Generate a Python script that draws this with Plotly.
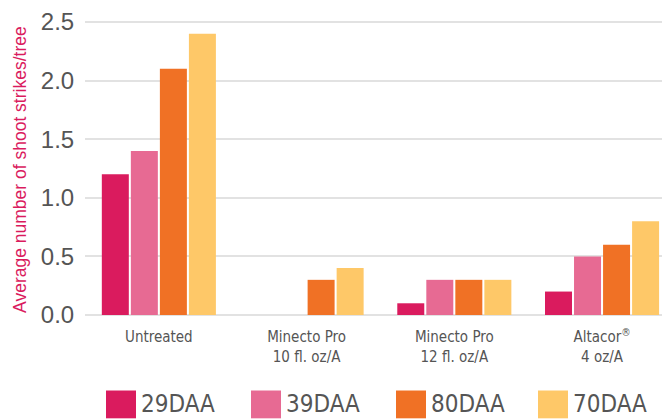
import plotly.graph_objects as go

categories = ["Untreated", "Minecto Pro<br>10 fl. oz/A", "Minecto Pro<br>12 fl. oz/A", "Altacor<sup>®</sup><br>4 oz/A"]
series_names = ["29DAA", "39DAA", "80DAA", "70DAA"]
values_29 = [1.2, 0.0, 0.1, 0.2]
values_39 = [1.4, 0.0, 0.3, 0.5]
values_80 = [2.1, 0.3, 0.3, 0.6]
values_70 = [2.4, 0.4, 0.3, 0.8]
colors = ["#DA1B5E", "#E76A93", "#F07125", "#FEC868"]
y_ticks = [0, 0.5, 1.0, 1.5, 2.0, 2.5]
y_tick_labels = ["0.0", "0.5", "1.0", "1.5", "2.0", "2.5"]
y_title = "Average number of shoot strikes/tree"

COND = "DejaVu Sans Condensed, Liberation Sans, Arial, sans-serif"
SANS = "Liberation Sans, Arial, sans-serif"

fig = go.Figure()
for name, vals, col in zip(series_names, [values_29, values_39, values_80, values_70], colors):
    fig.add_trace(go.Bar(x=categories, y=vals, name=name, marker_color=col,
                         marker_line_width=0, showlegend=False))

# page has an 8px body margin; compensate
OFF = 8
W, H = 670 - OFF, 419 - OFF
ml, mr, mt, mb = 85 - OFF, 0, 0, 104
pw, ph = W - ml - mr, H - mt - mb
def px(x):  # page pixel -> paper
    return (x - OFF - ml) / pw
def py(y):
    return (H - mb - (y - OFF)) / ph

legend_x = [106, 251, 396, 538]
shapes = []
annotations = []
for lx, name, col in zip(legend_x, series_names, colors):
    shapes.append(dict(type="rect", xref="paper", yref="paper",
                       x0=px(lx), x1=px(lx + 30), y0=py(419), y1=py(391),
                       fillcolor=col, line_width=0))
    annotations.append(dict(text=name, xref="paper", yref="paper",
                            x=px(lx + 33), y=py(405), xanchor="left", yanchor="middle",
                            showarrow=False, font=dict(family=COND, size=24, color="#555555")))

annotations.append(dict(text=y_title, xref="paper", yref="paper", x=px(9), y=py(169),
                        xanchor="left", yanchor="middle", textangle=-90, showarrow=False,
                        borderpad=0,
                        font=dict(family=SANS, size=17.5, color="#DA1B5E")))

fig.update_layout(
    width=W, height=H,
    margin=dict(l=ml, r=mr, t=mt, b=mb),
    plot_bgcolor="white", paper_bgcolor="white",
    barmode="group", bargap=0.214, bargroupgap=0.07,
    shapes=shapes, annotations=annotations,
    showlegend=False,
    xaxis=dict(range=[-0.5, 3.46], showgrid=False, showline=False, zeroline=False,
               ticks="outside", ticklen=8, tickcolor="rgba(0,0,0,0)",
               tickfont=dict(family=COND, size=15, color="#555555")),
    yaxis=dict(range=[0, ph / 118.0], tickvals=y_ticks, ticktext=y_tick_labels,
               showgrid=True, gridcolor="#e2e2e2", gridwidth=2,
               zeroline=True, zerolinecolor="#e2e2e2", zerolinewidth=2,
               ticks="outside", ticklen=5, tickcolor="rgba(0,0,0,0)",
               ticklabeloverflow="allow",
               tickfont=dict(family=SANS, size=24, color="#555555")),
)

fig.write_html("out.html")
